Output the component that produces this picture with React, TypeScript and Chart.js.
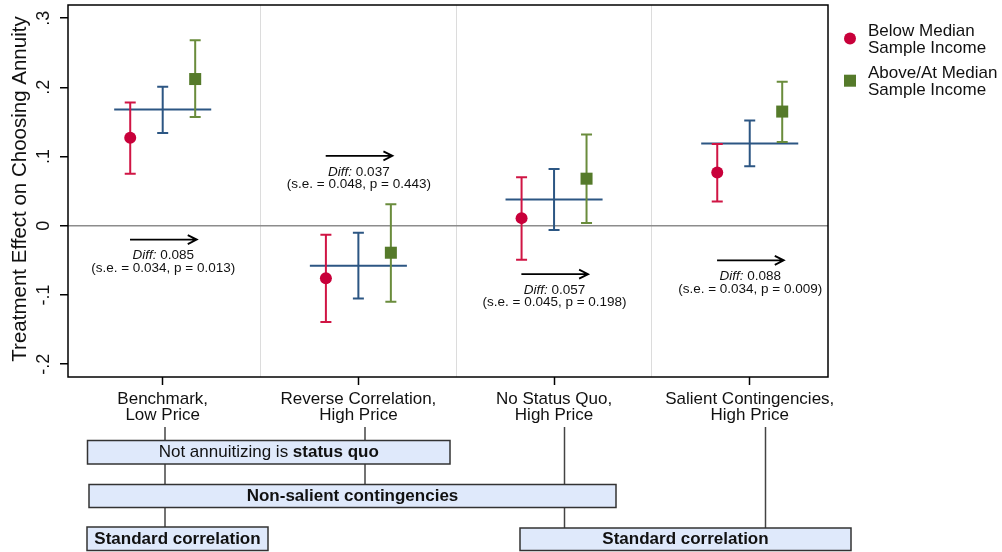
import React, { useEffect, useRef } from 'react';
import { Chart, registerables } from 'chart.js';

Chart.register(...registerables);

// ---------- data ----------
const categories: string[][] = [
  ['Benchmark,', 'Low Price'],
  ['Reverse Correlation,', 'High Price'],
  ['No Status Quo,', 'High Price'],
  ['Salient Contingencies,', 'High Price'],
];
const belowEst = [0.127, -0.076, 0.011, 0.077];
const belowLo = [0.075, -0.139, -0.049, 0.035];
const belowHi = [0.178, -0.013, 0.070, 0.118];
const pooledEst = [0.168, -0.058, 0.038, 0.119];
const pooledLo = [0.134, -0.105, -0.006, 0.086];
const pooledHi = [0.201, -0.010, 0.082, 0.152];
const aboveEst = [0.212, -0.039, 0.068, 0.165];
const aboveLo = [0.157, -0.110, 0.004, 0.121];
const aboveHi = [0.268, 0.031, 0.132, 0.208];

const diffValues = ['0.085', '0.037', '0.057', '0.088'];
const diffSE = ['0.034', '0.048', '0.045', '0.034'];
const diffP = ['0.013', '0.443', '0.198', '0.009'];
const diffArrowY = [-0.020, 0.101, -0.070, -0.050];

const yTickValues = [-0.2, -0.1, 0, 0.1, 0.2, 0.3];
const yTickLabels = ['-.2', '-.1', '0', '.1', '.2', '.3'];
const yTitle = 'Treatment Effect on Choosing Annuity';
const legendLabels = [
  ['Below Median', 'Sample Income'],
  ['Above/At Median', 'Sample Income'],
];
const boxTexts: { t: string; b: boolean }[][] = [
  [{ t: 'Not annuitizing is ', b: false }, { t: 'status quo', b: true }],
  [{ t: 'Non-salient contingencies', b: true }],
  [{ t: 'Standard correlation', b: true }],
  [{ t: 'Standard correlation', b: true }],
];

// ---------- layout / style ----------
const FONT = '"Liberation Sans", Arial, Helvetica, sans-serif';
const RED = '#c8003a';
const RED_LINE = '#d01544';
const GREEN = '#557a2a';
const GREEN_LINE = '#6a8c3c';
const BLUE = '#2c5683';
const SIDE_OFFSET = 0.166;
const POOLED_HALF = 0.248;
const ARROW_FROM = -0.167;
const ARROW_TO = 0.174;
const boxRects = [
  { x: 87.5, y: 440.5, w: 362.5, h: 23.5 },
  { x: 89, y: 484.5, w: 527, h: 23 },
  { x: 87, y: 527, w: 181, h: 23.5 },
  { x: 520, y: 528, w: 331, h: 22.5 },
];
const connectors = [
  { x: 165, y1: 427, y2: 440.5 },
  { x: 165, y1: 464, y2: 484.5 },
  { x: 165, y1: 507.5, y2: 527 },
  { x: 365, y1: 427, y2: 440.5 },
  { x: 365, y1: 464, y2: 484.5 },
  { x: 564.5, y1: 427, y2: 484.5 },
  { x: 564.5, y1: 507.5, y2: 528 },
  { x: 765.5, y1: 427, y2: 528 },
];

const overlayPlugin = {
  id: 'overlay',
  beforeDatasetsDraw(chart: any) {
    const ctx = chart.ctx as CanvasRenderingContext2D;
    const xs = chart.scales.x;
    const ys = chart.scales.y;
    const px = (v: number) => xs.getPixelForValue(v);
    const py = (v: number) => ys.getPixelForValue(v);
    const cap = 5.5;
    const vbar = (x: number, lo: number, hi: number, color: string) => {
      ctx.strokeStyle = color;
      ctx.lineWidth = 2;
      ctx.beginPath();
      ctx.moveTo(x, py(lo));
      ctx.lineTo(x, py(hi));
      ctx.moveTo(x - cap, py(lo));
      ctx.lineTo(x + cap, py(lo));
      ctx.moveTo(x - cap, py(hi));
      ctx.lineTo(x + cap, py(hi));
      ctx.stroke();
    };
    ctx.save();
    categories.forEach((_, i) => {
      const c = i + 1;
      // pooled
      ctx.strokeStyle = BLUE;
      ctx.lineWidth = 2;
      ctx.beginPath();
      ctx.moveTo(px(c - POOLED_HALF), py(pooledEst[i]));
      ctx.lineTo(px(c + POOLED_HALF), py(pooledEst[i]));
      ctx.stroke();
      vbar(px(c), pooledLo[i], pooledHi[i], BLUE);
      vbar(px(c - SIDE_OFFSET), belowLo[i], belowHi[i], RED_LINE);
      vbar(px(c + SIDE_OFFSET), aboveLo[i], aboveHi[i], GREEN_LINE);

      // arrow
      const ay = py(diffArrowY[i]);
      const x1 = px(c + ARROW_FROM);
      const x2 = px(c + ARROW_TO);
      ctx.strokeStyle = '#000';
      ctx.lineWidth = 1.8;
      ctx.beginPath();
      ctx.moveTo(x1, ay);
      ctx.lineTo(x2, ay);
      ctx.moveTo(x2 - 9, ay - 4.5);
      ctx.lineTo(x2, ay);
      ctx.lineTo(x2 - 9, ay + 4.5);
      ctx.stroke();

      // annotation text
      const cx = px(c) + 0.5;
      ctx.fillStyle = '#111';
      ctx.textBaseline = 'middle';
      ctx.textAlign = 'left';
      const it = 'Diff:';
      const rest = ' ' + diffValues[i];
      ctx.font = `italic 13.5px ${FONT}`;
      const w1 = ctx.measureText(it).width;
      ctx.font = `13.5px ${FONT}`;
      const w2 = ctx.measureText(rest).width;
      const sx = cx - (w1 + w2) / 2;
      ctx.font = `italic 13.5px ${FONT}`;
      ctx.fillText(it, sx, ay + 16);
      ctx.font = `13.5px ${FONT}`;
      ctx.fillText(rest, sx + w1, ay + 16);
      ctx.textAlign = 'center';
      ctx.fillText(`(s.e. = ${diffSE[i]}, p = ${diffP[i]})`, cx, ay + 28.5);
    });
    ctx.restore();
  },
  afterDraw(chart: any) {
    const ctx = chart.ctx as CanvasRenderingContext2D;
    const a = chart.chartArea;
    const ys = chart.scales.y;
    ctx.save();
    // plot border
    ctx.strokeStyle = '#000';
    ctx.lineWidth = 1.5;
    ctx.strokeRect(a.left, a.top, a.right - a.left, a.bottom - a.top);

    // y tick labels (rotated)
    ctx.fillStyle = '#111';
    ctx.font = `18px ${FONT}`;
    ctx.textAlign = 'center';
    ctx.textBaseline = 'middle';
    yTickValues.forEach((v, i) => {
      ctx.save();
      ctx.translate(44, ys.getPixelForValue(v));
      ctx.rotate(-Math.PI / 2);
      ctx.fillText(yTickLabels[i], 0, 0);
      ctx.restore();
    });
    // y title
    ctx.save();
    ctx.font = `20.5px ${FONT}`;
    ctx.translate(20, (a.top + a.bottom) / 2 - 2);
    ctx.rotate(-Math.PI / 2);
    ctx.fillText(yTitle, 0, 0);
    ctx.restore();

    // legend
    ctx.fillStyle = RED;
    ctx.beginPath();
    ctx.arc(850, 38.5, 6, 0, Math.PI * 2);
    ctx.fill();
    ctx.fillStyle = GREEN;
    ctx.fillRect(844, 74.7, 12, 12);
    ctx.fillStyle = '#111';
    ctx.font = `17px ${FONT}`;
    ctx.textAlign = 'left';
    ctx.fillText(legendLabels[0][0], 868, 31.7);
    ctx.fillText(legendLabels[0][1], 868, 48.3);
    ctx.fillText(legendLabels[1][0], 868, 73.3);
    ctx.fillText(legendLabels[1][1], 868, 90);

    // connectors
    ctx.strokeStyle = '#444';
    ctx.lineWidth = 1.5;
    connectors.forEach((c) => {
      ctx.beginPath();
      ctx.moveTo(c.x, c.y1);
      ctx.lineTo(c.x, c.y2);
      ctx.stroke();
    });
    // boxes
    boxRects.forEach((r, i) => {
      ctx.fillStyle = '#dfe9fb';
      ctx.fillRect(r.x, r.y, r.w, r.h);
      ctx.strokeStyle = '#333';
      ctx.lineWidth = 1.5;
      ctx.strokeRect(r.x, r.y, r.w, r.h);
      const segs = boxTexts[i];
      let total = 0;
      const widths = segs.map((s) => {
        ctx.font = `${s.b ? 'bold ' : ''}17px ${FONT}`;
        const w = ctx.measureText(s.t).width;
        total += w;
        return w;
      });
      let x = r.x + r.w / 2 - total / 2;
      ctx.fillStyle = '#111';
      ctx.textAlign = 'left';
      ctx.textBaseline = 'middle';
      segs.forEach((s, j) => {
        ctx.font = `${s.b ? 'bold ' : ''}17px ${FONT}`;
        ctx.fillText(s.t, x, r.y + r.h / 2 + 0.5);
        x += widths[j];
      });
    });
    ctx.restore();
  },
};

export default function App() {
  const ref = useRef<HTMLCanvasElement | null>(null);
  useEffect(() => {
    if (!ref.current) return;
    const chart = new Chart(ref.current, {
      type: 'scatter',
      data: {
        datasets: [
          {
            label: 'Below Median Sample Income',
            data: belowEst.map((v, i) => ({ x: i + 1 - SIDE_OFFSET, y: v })),
            pointStyle: 'circle',
            pointRadius: 6,
            pointBackgroundColor: RED,
            pointBorderWidth: 0,
            borderColor: RED,
          },
          {
            label: 'Above/At Median Sample Income',
            data: aboveEst.map((v, i) => ({ x: i + 1 + SIDE_OFFSET, y: v })),
            pointStyle: 'rect',
            pointRadius: 8.5,
            pointBackgroundColor: GREEN,
            pointBorderWidth: 0,
            borderColor: GREEN,
          },
        ],
      },
      options: {
        animation: false,
        responsive: false,
        devicePixelRatio: 1,
        layout: { autoPadding: false, padding: { left: 0, top: 5, right: 174, bottom: 0 } },
        plugins: { legend: { display: false }, tooltip: { enabled: false } },
        scales: {
          x: {
            type: 'linear',
            min: 0.516,
            max: 4.4,
            afterBuildTicks: (s: any) => {
              s.ticks = [1, 1.5, 2, 2.5, 3, 3.5, 4].map((v) => ({ value: v }));
            },
            afterFit: (s: any) => {
              s.height = 175;
            },
            border: { display: false },
            grid: {
              color: (c: any) => (c.tick && c.tick.value % 1 !== 0 ? '#dcdcdc' : 'rgba(0,0,0,0)'),
              tickColor: (c: any) => (c.tick && c.tick.value % 1 === 0 ? '#000' : 'rgba(0,0,0,0)'),
              lineWidth: 1,
              tickLength: 8,
              tickWidth: 1.5,
            },
            ticks: {
              autoSkip: false,
              maxRotation: 0,
              minRotation: 0,
              padding: 6,
              color: '#111',
              font: { family: FONT, size: 17, lineHeight: 0.96 },
              callback: (v: any) => {
                const n = Number(v);
                return Number.isInteger(n) ? categories[n - 1] : '';
              },
            },
          },
          y: {
            type: 'linear',
            min: -0.2186,
            max: 0.319,
            afterBuildTicks: (s: any) => {
              s.ticks = yTickValues.map((v) => ({ value: v }));
            },
            afterFit: (s: any) => {
              s.width = 68;
            },
            border: { display: false },
            grid: {
              color: (c: any) => (c.tick && c.tick.value === 0 ? '#8c8c8c' : 'rgba(0,0,0,0)'),
              tickColor: '#000',
              lineWidth: 1.5,
              tickLength: 8,
              tickWidth: 1.5,
            },
            ticks: {
              display: false,
            },
          },
        },
      },
      plugins: [overlayPlugin],
    });
    return () => chart.destroy();
  }, []);
  return (
    <div style={{ position: 'absolute', left: 0, top: 0, width: 1002, height: 552, background: '#fff' }}>
      <canvas ref={ref} width={1002} height={552} style={{ display: 'block' }} />
    </div>
  );
}
